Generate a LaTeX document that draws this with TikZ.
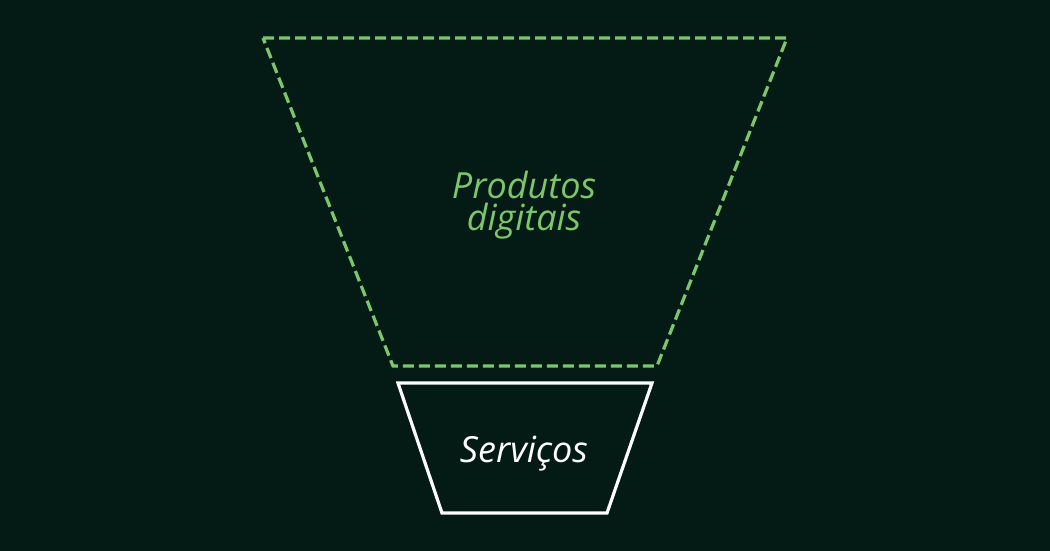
\documentclass[tikz,border=0pt]{standalone}
\usepackage{fontspec}
\setmainfont{Open Sans}
\definecolor{bg}{HTML}{041B15}
\definecolor{lgreen}{HTML}{7CC66C}
\begin{document}
\begin{tikzpicture}[x=1pt,y=-1pt,
  funnel/.style={line width=3.2pt, line join=miter},
  label/.style={font=\fontsize{36}{32}\selectfont\itshape, align=center, inner sep=0pt}]
\fill[bg] (0,0) rectangle (1050,551);
\useasboundingbox (0,0) rectangle (1050,551);
\coordinate (a1) at (263,38);
\coordinate (a2) at (787,38);
\coordinate (a3) at (657,366);
\coordinate (a4) at (393,366);
\draw[funnel, lgreen, dash pattern=on 11pt off 5pt] (a1) -- (a2) -- (a3) -- (a4) -- cycle;
\coordinate (b1) at (398,383);
\coordinate (b2) at (652,383);
\coordinate (b3) at (607,513);
\coordinate (b4) at (442,513);
\draw[funnel, white] (b1) -- (b2) -- (b3) -- (b4) -- cycle;
\node[label, text=lgreen, anchor=base] (p) at (524,230) {Produtos\\digitais};
\node[label, text=white, anchor=base] (s) at (524,462) {Serviços};
\end{tikzpicture}
\end{document}
